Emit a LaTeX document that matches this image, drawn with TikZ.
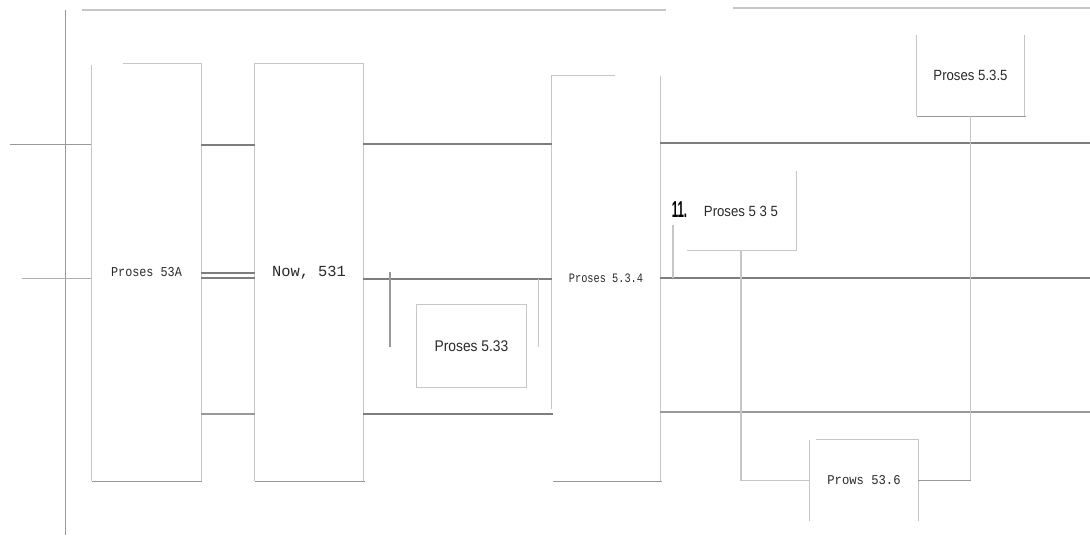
\documentclass[tikz,border=0pt]{standalone}
\usepackage{fontspec}
\setmainfont{Liberation Sans}
\setmonofont{Liberation Mono}
\definecolor{dk}{HTML}{7E7E7E}
\definecolor{md}{HTML}{999999}
\definecolor{lt}{HTML}{C6C6C6}
\definecolor{tx}{HTML}{2A2A2A}
\begin{document}
\begin{tikzpicture}[x=1pt,y=-1pt,
  dkline/.style={draw=dk,line width=1.7pt},
  mdline/.style={draw=md,line width=1.2pt},
  ltline/.style={draw=lt,line width=1.2pt},
  box/.style={draw=none,inner sep=0pt,text=tx},
  mono/.style={font=\fontsize{#1}{#1}\ttfamily},
  sans/.style={font=\fontsize{#1}{#1}\rmfamily}]
\useasboundingbox (0,0) rectangle (1090,537);
\fill[white] (0,0) rectangle (1090,537);

% nodes
\node[box,mono=11.8,minimum width=109pt,minimum height=417pt] (A) at (146.5,272.5) {\scalebox{1}[1.15]{Proses 53A}};
\node[box,mono=15.4,minimum width=108pt,minimum height=417pt] (B) at (309,272.5) {Now, 531};
\node[box,mono=10.3,minimum width=108pt,minimum height=405pt] (C) at (606,278.5) {\scalebox{1}[1.25]{Proses 5.3.4}};
\node[box,sans=13.8,minimum width=109pt,minimum height=82pt] (P33) at (471.5,346) {\scalebox{1}[1.12]{Proses 5.33}};
\node[box,sans=13.2,minimum width=110pt,minimum height=79pt] (P35a) at (741,211) {\scalebox{1}[1.12]{Proses 5 3 5}};
\node[box,sans=13.2,minimum width=107pt,minimum height=81pt] (P35b) at (970.5,75.5) {\scalebox{1}[1.12]{Proses 5.3.5}};
\node[box,mono=12.2,minimum width=108pt,minimum height=81pt] (P36) at (864,480.5) {\scalebox{1}[1.1]{Prows 53.6}};
\node[box,font=\fontsize{23}{23}\bfseries,text=black] (L11) at (679.5,210) {\scalebox{0.5}[1]{11.}};

% free ends
\coordinate (TL1) at (82,10);  \coordinate (TR1) at (666,10);
\coordinate (TL2) at (733,8);  \coordinate (TR2) at (1090,8);
\coordinate (VT) at (65,10);   \coordinate (VB) at (65,535);
\coordinate (H1) at (10,145);  \coordinate (H2) at (22,279);
\coordinate (R1) at (1090,143); \coordinate (R2) at (1090,278); \coordinate (R3) at (1090,412);

% top and left rules
\draw[ltline] (TL1) -- (TR1);
\draw[ltline] (TL2) -- (TR2);
\draw[mdline,line width=1pt] (VT) -- (VB);
\draw[mdline,line width=1pt] (H1) -- (A.west |- H1);
\draw[md!80!white,line width=1pt] (H2) -- (A.west |- H2);

% box A
\draw[ltline] ([xshift=31pt]A.north west) -- (A.north east) -- (A.south east);
\draw[ltline] ([yshift=-1pt]A.north west) -- (A.south west);
\draw[mdline] (A.south west) -- ([xshift=1pt]A.south east);

% box B
\draw[ltline] (B.south west) -- (B.north west) -- (B.north east) -- (B.south east);
\draw[mdline] (B.south west) -- ([xshift=2pt]B.south east);

% box C
\draw[ltline] ([xshift=63pt]C.north west) -- (C.north west) -- ([yshift=72pt]C.south west);
\draw[ltline] (C.north east) -- (C.south east);
\draw[mdline] ([xshift=1pt]C.south west) -- ([xshift=2pt]C.south east);

% connectors A-B
\draw[dkline] (A.east |- 0,145) -- (B.west |- 0,145);
\draw[dkline] (A.east |- 0,273) -- (B.west |- 0,273);
\draw[dkline] (A.east |- 0,278) -- (B.west |- 0,278);
\draw[mdline,line width=1.6pt] (A.east |- 0,414) -- (B.west |- 0,414);

% connectors B-C
\draw[dkline] (B.east |- 0,144) -- (C.west |- 0,144);
\draw[dkline] (B.east |- 0,279) -- (C.west |- 0,279);
\draw[dkline] (B.east |- 0,414) -- ([xshift=1pt]C.west |- 0,414);

% lines right of C
\draw[dkline] (C.east |- R1) -- (R1);
\draw[dkline] (C.east |- R2) -- (R2);
\draw[mdline,line width=1.6pt] (C.east |- R3) -- (R3);

% box 5.33 and its side marks
\draw[ltline] (P33.north west) rectangle (P33.south east);
\draw[mdline,line width=1.6pt] (390,272) -- (390,347);
\draw[ltline,line width=1pt] (538,279) -- (538,347);

% box 5 3 5 (first)
\draw[ltline] (P35a.north east) -- (P35a.south east) -- ([xshift=1pt]P35a.south west);
\draw[ltline] (673,225) -- (673,278);

% box 5.3.5
\draw[ltline] (P35b.north west) -- (P35b.south west);
\draw[ltline] (P35b.north east) -- (P35b.south east);
\draw[mdline] (P35b.south west) -- ([xshift=2pt]P35b.south east);

% box Prows 53.6
\draw[ltline] (P36.south west) -- (P36.north west);
\draw[ltline] ([xshift=6pt]P36.north west) -- (P36.north east) -- (P36.south east);

% connectors to Prows 53.6
\draw[ltline] (P35a.south) -- (P35a.south |- P36.west) -- (P36.west);
\draw[ltline] (P35b.south) -- (P35b.south |- P36.east);
\draw[mdline] (P35b.south |- P36.east) -- (P36.east);
\end{tikzpicture}
\end{document}
